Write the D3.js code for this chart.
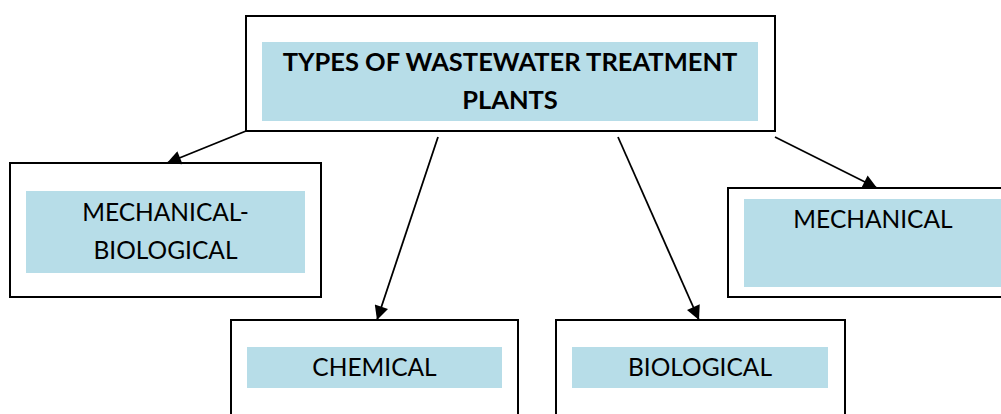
<!DOCTYPE html>
<html>
<head>
<meta charset="utf-8">
<script src="https://cdn.jsdelivr.net/npm/d3@7"></script>
<style>
  html, body { margin: 0; padding: 0; background: #fff; }
  svg { display: block; font-family: Lato, "Open Sans", sans-serif; }
</style>
</head>
<body>
<svg id="chart" width="1001" height="414"></svg>
<script>
(function () {
    'use strict';

    // diagram content
    var rootLabel = ["TYPES OF WASTEWATER TREATMENT", "PLANTS"];
    var childIds = ["mechbio", "chemical", "biological", "mechanical"];
    var childLabels = [["MECHANICAL-", "BIOLOGICAL"], ["CHEMICAL"], ["BIOLOGICAL"], ["MECHANICAL"]];

    // layout (outer box, inner band, text baseline)
    var boxes = {
        root:       { x: 246, y: 16,  w: 529, h: 115, ix: 262, iy: 42,  iw: 496, ih: 79, ty: 71,  lh: 38, fs: 25.5 },
        mechbio:    { x: 10,  y: 163, w: 311, h: 134, ix: 26,  iy: 191, iw: 279, ih: 82, ty: 221, lh: 38, fs: 24.5 },
        chemical:   { x: 231, y: 320, w: 287, h: 110, ix: 247, iy: 347, iw: 255, ih: 41, ty: 376, lh: 38, fs: 24.5 },
        biological: { x: 556, y: 320, w: 289, h: 110, ix: 572, iy: 347, iw: 256, ih: 41, ty: 376, lh: 38, fs: 24.5 },
        mechanical: { x: 728, y: 188, w: 300, h: 109, ix: 744, iy: 199, iw: 258, ih: 88, ty: 228, lh: 38, fs: 24.5 }
    };

    // arrows from the root box to each child
    var arrows = [
        { id: "mechbio",    from: [246, 131], to: [167, 163] },
        { id: "chemical",   from: [438, 137], to: [377, 320] },
        { id: "biological", from: [618, 137], to: [699, 320] },
        { id: "mechanical", from: [775, 137], to: [877, 188] }
    ];

    var svg = d3.select("#chart");
    var fill = "#b7dde8";

    svg.append("defs").append("marker")
        .attr("id", "head")
        .attr("viewBox", "0 0 10 10")
        .attr("refX", 10)
        .attr("refY", 5)
        .attr("markerWidth", 15)
        .attr("markerHeight", 14)
        .attr("markerUnits", "userSpaceOnUse")
        .attr("orient", "auto")
        .append("path")
        .attr("d", "M0,0 L10,5 L0,10 Z")
        .attr("fill", "#000");

    function drawBox(b, lines, bold) {
        var g = svg.append("g");
        g.append("rect")
            .attr("x", b.x).attr("y", b.y)
            .attr("width", b.w).attr("height", b.h)
            .attr("fill", "#fff")
            .attr("stroke", "#000")
            .attr("stroke-width", 2);
        g.append("rect")
            .attr("x", b.ix).attr("y", b.iy)
            .attr("width", b.iw).attr("height", b.ih)
            .attr("fill", fill);
        g.selectAll("text")
            .data(lines)
            .enter().append("text")
            .attr("x", b.ix + b.iw / 2)
            .attr("y", function (d, i) { return b.ty + i * b.lh; })
            .attr("text-anchor", "middle")
            .attr("font-size", b.fs)
            .attr("font-weight", bold ? "bold" : "normal")
            .attr("fill", "#000")
            .text(function (d) { return d; });
    }

    drawBox(boxes.root, rootLabel, true);
    childIds.forEach(function (id, i) {
        drawBox(boxes[id], childLabels[i], false);
    });

    svg.selectAll("line.arrow")
        .data(arrows)
        .enter().append("line")
        .attr("class", "arrow")
        .attr("x1", function (d) { return d.from[0]; })
        .attr("y1", function (d) { return d.from[1]; })
        .attr("x2", function (d) { return d.to[0]; })
        .attr("y2", function (d) { return d.to[1]; })
        .attr("stroke", "#000")
        .attr("stroke-width", 1.8)
        .attr("marker-end", "url(#head)");
})();
</script>
</body>
</html>
